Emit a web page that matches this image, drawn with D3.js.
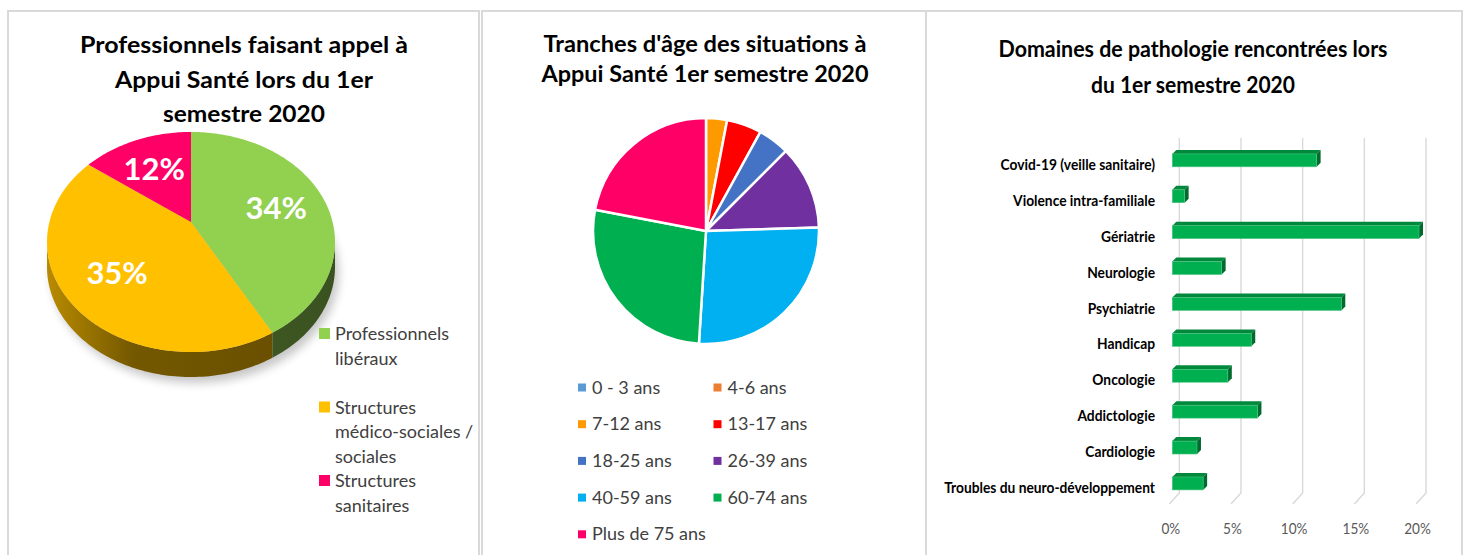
<!DOCTYPE html>
<html lang="fr">
<head>
<meta charset="UTF-8">
<script src="https://d3js.org/d3.v7.min.js"></script>
<title>Appui Santé - 1er semestre 2020</title>
<style>
  body { margin: 0; background: #fff; }
  svg text { font-family: Lato, "Open Sans", sans-serif; }
</style>
</head>
<body>
<div id="chart"></div>
<script>
// --- chart 1 : professionnels
const proLabels = ["Professionnels libéraux", "Structures médico-sociales / sociales", "Structures sanitaires"];
const proValues = [34, 35, 12];
const proColors = ["#92D050", "#FFC000", "#FF0066"];

// --- chart 2 : tranches d'age
const ageLabels = ["0 - 3 ans", "4-6 ans", "7-12 ans", "13-17 ans", "18-25 ans", "26-39 ans", "40-59 ans", "60-74 ans", "Plus de 75 ans"];
const ageValues = [0, 0, 3, 5, 4.5, 12, 26.5, 27, 22];
const ageColors = ["#5B9BD5", "#ED7D31", "#FF9900", "#FF0000", "#4472C4", "#7030A0", "#00B0F0", "#00B050", "#FF0066"];

// --- chart 3 : domaines de pathologie (%)
const pathoLabels = ["Covid-19 (veille sanitaire)", "Violence intra-familiale", "Gériatrie", "Neurologie", "Psychiatrie",
  "Handicap", "Oncologie", "Addictologie", "Cardiologie", "Troubles du neuro-développement"];
const pathoValues = [11.7, 1.0, 20.0, 4.0, 13.7, 6.4, 4.5, 6.9, 2.0, 2.5];
const pathoTicks = [0, 5, 10, 15, 20];

const svg = d3.select("#chart").append("svg")
    .attr("width", 1473)
    .attr("height", 555);
const defs = svg.append("defs");

// panel frames
[[8, 11, 471, 560], [482, 11, 444, 560], [926, 11, 536, 560]].forEach(p => {
  svg.append("rect")
      .attr("x", p[0]).attr("y", p[1]).attr("width", p[2]).attr("height", p[3])
      .attr("fill", "none").attr("stroke", "#d9d9d9").attr("stroke-width", 2);
});

// titles, stretched to the width they have in the original
function title(lines, cx, y0, lh, widths) {
  lines.forEach((t, i) => {
    svg.append("text")
        .attr("x", cx).attr("y", y0 + i * lh)
        .attr("text-anchor", "middle")
        .attr("font-size", 22).attr("font-weight", "bold").attr("fill", "#000")
        .attr("textLength", widths[i]).attr("lengthAdjust", "spacingAndGlyphs")
        .text(t);
  });
}
title(["Professionnels faisant appel à", "Appui Santé lors du 1er", "semestre 2020"], 244, 53, 34.5, [328, 258, 162]);
title(["Tranches d'âge des situations à", "Appui Santé 1er semestre 2020"], 705, 52, 30, [323, 327]);
title(["Domaines de pathologie rencontrées lors", "du 1er semestre 2020"], 1193, 57, 36, [389, 204]);

// ---------- chart 1 : 3D pie with perspective
// disk point (angle t from 12 o'clock, radius r) projected on screen
const apexX = 191, apexY = 222, pa = 141.6, pb = 106.4, pk = 0.1818, depth = 25;
const proj = (t, r = 1, dy = 0) => {
  const X = r * Math.sin(t), Z = r * Math.cos(t), w = 1 + pk * Z;
  return [apexX + pa * X / w, apexY - pb * Z / w + dy];
};
const rim = (a0, a1, dy = 0) => {
  const n = Math.max(2, Math.ceil((a1 - a0) / 0.02));
  return d3.range(n + 1).map(j => proj(a0 + (a1 - a0) * j / n, 1, dy));
};
const arcs1 = d3.pie().sort(null).startAngle(0).endAngle(2 * Math.PI)(proValues);
const line = d3.line();

// soft shadow
const blur = defs.append("filter").attr("id", "shadow").attr("x", "-20%").attr("y", "-20%").attr("width", "140%").attr("height", "140%");
blur.append("feGaussianBlur").attr("stdDeviation", 5);
svg.append("ellipse")
    .attr("cx", apexX + 4).attr("cy", 242 + depth + 6).attr("rx", 144).attr("ry", 110)
    .attr("fill", "#000").attr("opacity", 0.22).attr("filter", "url(#shadow)");

// side walls (front part of the rim only)
const wallFrom = Math.PI / 2 + Math.asin(pk), wallTo = 3 * Math.PI / 2 - Math.asin(pk);
arcs1.forEach((d, i) => {
  const s = Math.max(d.startAngle, wallFrom), e = Math.min(d.endAngle, wallTo);
  if (s >= e) return;
  const c = d3.color(proColors[i]);
  const g = defs.append("linearGradient").attr("id", "wall" + i)
      .attr("gradientUnits", "userSpaceOnUse")
      .attr("x1", 47).attr("x2", 335).attr("y1", 0).attr("y2", 0);
  g.append("stop").attr("offset", 0).attr("stop-color", c.darker(0.9));
  g.append("stop").attr("offset", 0.3).attr("stop-color", c.darker(2.2));
  g.append("stop").attr("offset", 1).attr("stop-color", c.darker(2.6));
  const pts = rim(s, e).concat(rim(s, e, depth).reverse());
  svg.append("path").attr("d", line(pts) + "Z").attr("fill", `url(#wall${i})`);
});

// top faces
arcs1.forEach((d, i) => {
  const pts = [[apexX, apexY]].concat(rim(d.startAngle, d.endAngle));
  svg.append("path").attr("d", line(pts) + "Z").attr("fill", proColors[i]);
});

// data labels
arcs1.forEach(d => {
  const p = proj((d.startAngle + d.endAngle) / 2, 0.64, 2);
  svg.append("text")
      .attr("x", p[0]).attr("y", p[1]).attr("dy", "0.36em")
      .attr("text-anchor", "middle")
      .attr("font-size", 31).attr("font-weight", "bold").attr("fill", "#fff")
      .text(d.value + "%");
});

// legend with word wrap
proLabels.forEach((lab, i) => {
  const by = 340 + i * 73.5;
  svg.append("rect").attr("x", 319).attr("y", by - 12).attr("width", 11).attr("height", 11).attr("fill", proColors[i]);
  const t = svg.append("text").attr("font-size", 18).attr("fill", "#404040");
  let words = [], k = 0;
  let ts = t.append("tspan").attr("x", 335).attr("y", by);
  lab.split(" ").forEach(w => {
    words.push(w);
    ts.text(words.join(" "));
    if (ts.node().getComputedTextLength() > 140 && words.length > 1) {
      words.pop();
      ts.text(words.join(" "));
      words = [w];
      k++;
      ts = t.append("tspan").attr("x", 335).attr("y", by + k * 24.5).text(w);
    }
  });
});

// ---------- chart 2 : pie
const cx2 = 706, cy2 = 231;
const arcs2 = d3.pie().sort(null)(ageValues);
const arc2 = d3.arc().innerRadius(0).outerRadius(113);
svg.append("g").attr("transform", `translate(${cx2},${cy2})`)
  .selectAll("path")
  .data(arcs2.filter(d => d.value > 0))
  .join("path")
    .attr("d", arc2)
    .attr("fill", d => ageColors[d.index])
    .attr("stroke", "#fff").attr("stroke-width", 2.5);

const leg2 = svg.append("g");
ageLabels.forEach((lab, i) => {
  const col = i % 2, row = Math.floor(i / 2);
  const x0 = 578 + col * 135.5, y0 = 383.5 + row * 36.7;
  leg2.append("rect").attr("x", x0).attr("y", y0).attr("width", 8).attr("height", 8).attr("fill", ageColors[i]);
  leg2.append("text").attr("x", x0 + 14).attr("y", y0 + 10)
      .attr("font-size", 18).attr("fill", "#404040").text(lab);
});

// ---------- chart 3 : 3D horizontal bars
const x = d3.scaleLinear().domain([0, 20]).range([1172.3, 1419]);
const y = d3.scaleBand().domain(pathoLabels).range([142.4, 501.4]).paddingInner(0.64).paddingOuter(0.32);
const bw = y.bandwidth(), dd = 4;

// back wall grid + floor
pathoTicks.forEach(t => {
  const bx = x(t) + 7;
  svg.append("path")
      .attr("d", `M${bx},138L${bx},493L${x(t) - 3},504`)
      .attr("fill", "none").attr("stroke", "#d9d9d9").attr("stroke-width", 1.4);
});

const bars = svg.append("g");
pathoLabels.forEach((lab, i) => {
  const y0 = y(lab), x0 = x(0), x1 = x(pathoValues[i]);
  bars.append("path")
      .attr("d", `M${x0},${y0}L${x0 + dd},${y0 - dd}L${x1 + dd},${y0 - dd}L${x1},${y0}Z`)
      .attr("fill", "#00883C");
  bars.append("path")
      .attr("d", `M${x1},${y0}L${x1 + dd},${y0 - dd}L${x1 + dd},${y0 + bw - dd}L${x1},${y0 + bw}Z`)
      .attr("fill", "#006B2E");
  bars.append("rect")
      .attr("x", x0).attr("y", y0).attr("width", x1 - x0).attr("height", bw)
      .attr("fill", "#00B050").attr("stroke", "#4cc37f").attr("stroke-width", 0.6);
});

// category labels (narrow, as in the original)
const cats = svg.append("g").selectAll("text").data(pathoLabels).join("text")
    .attr("text-anchor", "end")
    .attr("font-size", 16).attr("font-weight", "bold").attr("fill", "#000")
    .text(d => d);
const longest = d3.max(cats.nodes(), n => n.getComputedTextLength());
const sx = Math.min(1, 211 / longest);
cats.attr("transform", d => `translate(1155,${y(d) + bw / 2 + 4}) scale(${sx},1)`).attr("dy", "0.35em");

// value axis labels
svg.append("g").selectAll("text").data(pathoTicks).join("text")
    .attr("transform", d => `translate(${x(d) - 1.5},534) scale(0.85,1)`)
    .attr("text-anchor", "middle")
    .attr("font-size", 16).attr("fill", "#595959")
    .text(d => d + "%");
</script>
</body>
</html>
